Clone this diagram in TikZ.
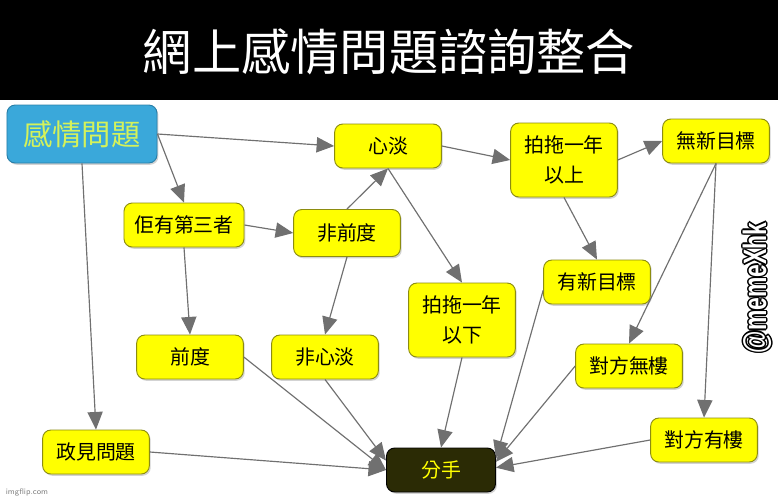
\documentclass[tikz,border=0pt]{standalone}
\usepackage{xcolor}
\usepackage{fontspec}
\usepackage{tikz}
\usetikzlibrary{arrows.meta,shadows}
\newfontfamily\cjk{Noto Sans CJK TC}
\newfontfamily\markfont{Liberation Sans}
\definecolor{boxyellow}{HTML}{FFFF00}
\definecolor{boxline}{HTML}{8C8C10}
\definecolor{qblue}{HTML}{3AA8DA}
\definecolor{qline}{HTML}{2A7FA8}
\definecolor{qtext}{HTML}{D4F25A}
\definecolor{endfill}{HTML}{2B2B05}
\definecolor{arrowgray}{HTML}{707070}

\begin{document}
\begin{tikzpicture}[x=0.03cm,y=-0.03cm,inner sep=1pt,
  box/.style={draw=boxline,fill=boxyellow,rounded corners=7pt,line width=0.8pt,
    minimum width=3.2cm,minimum height=1.32cm,align=center,
    font=\cjk\fontsize{17}{25}\selectfont,
    drop shadow={shadow xshift=1.2pt,shadow yshift=-1.5pt,opacity=0.35}},
  link/.style={draw=arrowgray,line width=1pt,-{Triangle[length=15pt,width=13pt]}}]
\useasboundingbox (0,0) rectangle (778,500);
\fill[black] (0,0) rectangle (778,100);
\node[text=white,font=\cjk\fontsize{42}{42}\selectfont] (title) at (389,52) {網上感情問題諮詢整合};

\node[box,draw=qline,fill=qblue,text=qtext,minimum width=4.5cm,minimum height=1.74cm,font=\cjk\fontsize{25}{25}\selectfont] (gq) at (82,134) {感情問題};
\node[box] (xd) at (388,146) {心淡};
\node[box,minimum height=2.22cm] (tn) at (564,160) {拍拖一年\\以上};
\node[box] (wm) at (716,141) {無新目標};
\node[box,minimum width=3.6cm] (dy) at (184,225) {佢有第三者};
\node[box,minimum height=1.41cm] (fqd) at (347,233) {非前度};
\node[box] (ym) at (597,282) {有新目標};
\node[box,minimum height=2.22cm] (ts) at (462,320) {拍拖一年\\以下};
\node[box] (qd) at (190,357) {前度};
\node[box] (fxd) at (325,357) {非心淡};
\node[box] (fw) at (629,366) {對方無樓};
\node[box] (zj) at (96,452) {政見問題};
\node[box,draw=black,fill=endfill,text=boxyellow,minimum width=3.27cm] (fs) at (441,470) {分手};
\node[box] (fy) at (704,440) {對方有樓};

\path (gq.east) edge[link] (xd.west);
\path (gq.east) edge[link] (dy.north);
\path (gq.south) edge[link] (zj.north);
\path (dy.east) edge[link] (fqd.west);
\path (dy.south) edge[link] (qd.north);
\path (fqd.north) edge[link] (xd.south);
\path (fqd.south) edge[link] (fxd.north);
\path (xd.east) edge[link] (tn.west);
\path (xd.south) edge[link] (ts.north);
\path (tn.east) edge[link] (wm.west);
\path (tn.south) edge[link] (ym.north);
\path (wm.south) edge[link] (fw.north);
\path (wm.south) edge[link] (fy.north);
\path (qd.east) edge[link] (fs.west);
\path (fxd.south) edge[link] ([yshift=8pt]fs.west);
\path (zj.east) edge[link] (fs.west);
\path (ts.south) edge[link] (fs.north);
\path ([yshift=-7pt]ym.west) edge[link] ([yshift=10pt]fs.east);
\path (fw.west) edge[link] ([yshift=7pt]fs.east);
\path (fy.west) edge[link] ([yshift=2pt]fs.east);

% watermark
\foreach \dx/\dy in {-1.5/0,1.5/0,0/-1.5,0/1.5,-1/-1,1/1,-1/1,1/-1}
  \node[rotate=90,yscale=1.2,xscale=0.85,transform shape,text=black,font=\markfont\bfseries\fontsize{23}{23}\selectfont] at (757+\dx,288+\dy) {@memeXhk};
\node[rotate=90,yscale=1.2,xscale=0.85,transform shape,text=white,font=\markfont\bfseries\fontsize{23}{23}\selectfont] (mark) at (757,288) {@memeXhk};
\node[text=gray,font=\sffamily\fontsize{7}{7}\selectfont] (site) at (27,492) {imgflip.com};
\end{tikzpicture}
\end{document}
